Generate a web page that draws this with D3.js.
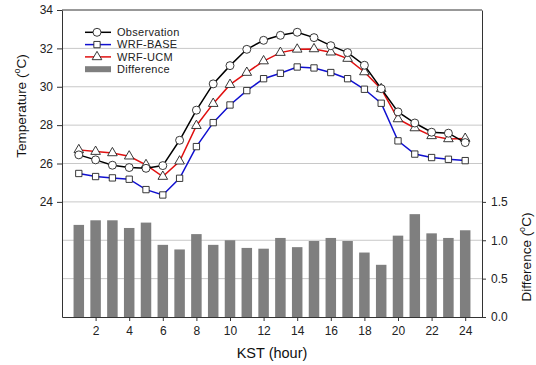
<!DOCTYPE html>
<html><head><meta charset="utf-8">
<script src="https://cdn.jsdelivr.net/npm/d3@7"></script>
<style>body{margin:0;background:#fff}svg{display:block;font-family:Arial,"Liberation Sans",sans-serif}</style>
</head><body><svg id="c" width="536" height="365"></svg>
<script>
const hours = [1,2,3,4,5,6,7,8,9,10,11,12,13,14,15,16,17,18,19,20,21,22,23,24];
const observation = [26.45,26.19,25.91,25.79,25.75,25.89,27.21,28.78,30.15,31.10,31.95,32.42,32.68,32.84,32.56,32.14,31.78,31.12,29.90,28.69,28.11,27.63,27.58,27.09];
const wrfBase = [25.48,25.32,25.25,25.18,24.64,24.36,25.23,26.88,28.13,29.05,29.80,30.42,30.70,31.03,30.98,30.74,30.42,29.87,29.14,27.18,26.49,26.31,26.22,26.15];
const wrfUcm = [26.71,26.62,26.55,26.38,25.93,25.32,26.12,27.97,29.12,30.11,30.74,31.34,31.78,31.95,31.97,31.80,31.47,30.77,29.89,28.32,27.85,27.44,27.28,27.30];
const difference = [1.20,1.26,1.26,1.16,1.23,0.94,0.88,1.08,0.94,1.00,0.90,0.89,1.03,0.91,0.99,1.03,0.99,0.84,0.68,1.06,1.34,1.09,1.03,1.13];
const xTicks = [2,4,6,8,10,12,14,16,18,20,22,24];
const leftTicks = [24,26,28,30,32,34];
const rightTicks = [0,0.5,1.0,1.5];
const gridValues = [20,22,24,26,28,30,32];

const svg = d3.select("#c");
const L = 62, R = 482, T = 10, B = 317;
const x = d3.scaleLinear().domain([0,25]).range([L,R]);
const yL = d3.scaleLinear().domain([18,34]).range([B,T]);
const yR = d3.scaleLinear().domain([0,4]).range([B,T]);
const axisColor = "#333";

// grid
svg.append("g").selectAll("line").data(gridValues).join("line")
  .attr("x1",L).attr("x2",R).attr("y1",d=>yL(d)).attr("y2",d=>yL(d))
  .attr("stroke","#c8c8c8").attr("stroke-width",1);

// bars
const bw = 10.5;
svg.append("g").selectAll("rect").data(hours).join("rect")
  .attr("x",(d)=>x(d)-bw/2).attr("width",bw)
  .attr("y",(d,i)=>yR(difference[i])).attr("height",(d,i)=>yR(0)-yR(difference[i]))
  .attr("fill","#7f7f7f");

// frame / axes
function styleAxis(g){
  g.selectAll("path").attr("stroke",axisColor);
  g.selectAll("line").attr("stroke",axisColor);
  g.selectAll("text").attr("fill","#222").style("font-size","12px").style("font-family","Arial, 'Liberation Sans', sans-serif");
}
svg.append("line").attr("x1",L).attr("x2",R).attr("y1",T).attr("y2",T).attr("stroke",axisColor);
const gl = svg.append("g").attr("transform",`translate(${L},0)`)
  .call(d3.axisLeft(yL).tickValues(leftTicks).tickSize(5).tickSizeOuter(0).tickPadding(4).tickFormat(d3.format("d")));
styleAxis(gl);
const gr = svg.append("g").attr("transform",`translate(${R},0)`)
  .call(d3.axisRight(yR).tickValues(rightTicks).tickSize(4).tickSizeOuter(0).tickPadding(5).tickFormat(d3.format(".1f")));
styleAxis(gr);
const gb = svg.append("g").attr("transform",`translate(0,${B})`)
  .call(d3.axisBottom(x).tickValues(xTicks).tickSize(4).tickSizeOuter(0).tickPadding(5).tickFormat(d3.format("d")));
styleAxis(gb);

// lines
const series = [
  {name:"WRF-BASE", vals:wrfBase, color:"#1010d0", marker:"square"},
  {name:"WRF-UCM", vals:wrfUcm, color:"#e01010", marker:"triangle"},
  {name:"Observation", vals:observation, color:"#000", marker:"circle"}
];
const symType = {circle:d3.symbolCircle, square:d3.symbolSquare, triangle:d3.symbolTriangle};
const symSize = {circle:50, square:40, triangle:40};
const line = d3.line().x((d,i)=>x(hours[i])).y(d=>yL(d));
series.forEach(s=>{
  svg.append("path").attr("d",line(s.vals)).attr("fill","none").attr("stroke",s.color).attr("stroke-width",1.5);
  svg.append("g").selectAll("path").data(s.vals).join("path")
    .attr("transform",(d,i)=>`translate(${x(hours[i])},${yL(d)})`)
    .attr("d",d3.symbol().type(symType[s.marker]).size(symSize[s.marker]))
    .attr("fill","#fff").attr("stroke","#222").attr("stroke-width",0.9);
});

// legend
const legend = [
  {name:"Observation", color:"#000", marker:"circle"},
  {name:"WRF-BASE", color:"#1010d0", marker:"square"},
  {name:"WRF-UCM", color:"#e01010", marker:"triangle"},
  {name:"Difference", color:"#7f7f7f", marker:"bar"}
];
const lg = svg.append("g");
legend.forEach((e,i)=>{
  const yy = 32.3 + i*12.3;
  if(e.marker==="bar"){
    lg.append("rect").attr("x",85).attr("y",yy-3).attr("width",26).attr("height",6).attr("fill",e.color);
  } else {
    lg.append("line").attr("x1",85).attr("x2",111).attr("y1",yy).attr("y2",yy).attr("stroke",e.color).attr("stroke-width",1.5);
    lg.append("path").attr("transform",`translate(97,${yy})`)
      .attr("d",d3.symbol().type(symType[e.marker]).size(symSize[e.marker]))
      .attr("fill","#fff").attr("stroke","#222").attr("stroke-width",0.9);
  }
  lg.append("text").attr("x",117).attr("y",yy).attr("dy","0.35em").style("font-size","11px").attr("fill","#222")
    .style("letter-spacing","0.3px").text(e.name);
});

// axis titles
const tl = svg.append("text").attr("transform","translate(26,106) rotate(-90)").attr("text-anchor","middle")
  .style("font-size","13.5px").attr("fill","#111");
tl.append("tspan").text("Temperature (");
tl.append("tspan").text("o").attr("dy","-6").style("font-size","9px");
tl.append("tspan").text("C)").attr("dy","6");

const tr = svg.append("text").attr("transform","translate(531,257) rotate(-90)").attr("text-anchor","middle")
  .style("font-size","13.5px").attr("fill","#111");
tr.append("tspan").text("Difference (");
tr.append("tspan").text("o").attr("dy","-6").style("font-size","9px");
tr.append("tspan").text("C)").attr("dy","6");

svg.append("text").attr("x",272).attr("y",358).attr("text-anchor","middle")
  .style("font-size","14.5px").attr("fill","#111").text("KST (hour)");
</script></body></html>
